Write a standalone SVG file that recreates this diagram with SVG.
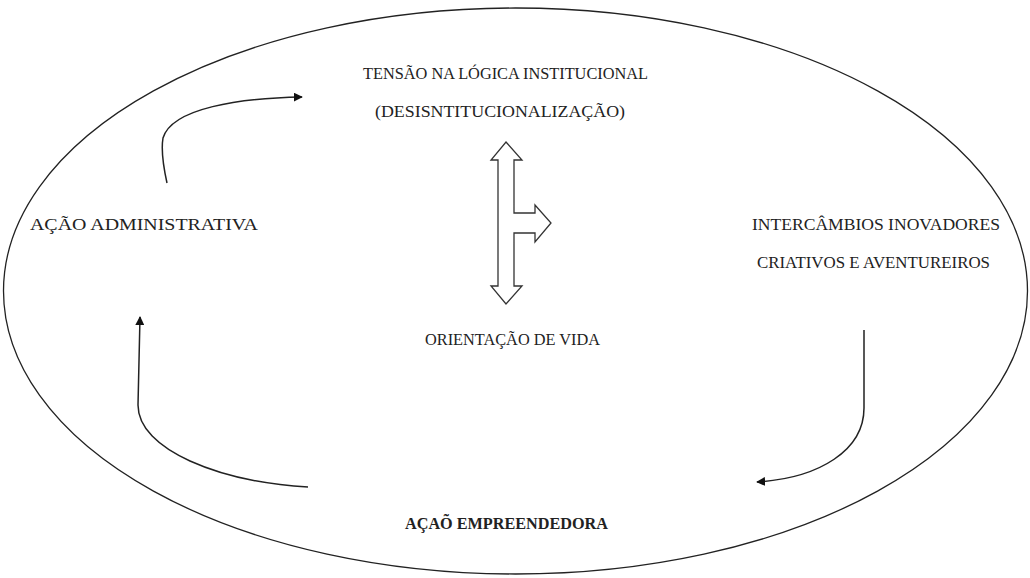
<svg xmlns="http://www.w3.org/2000/svg" width="1030" height="578" viewBox="0 0 1030 578">
<style>
.t{font-family:"Liberation Serif","DejaVu Serif","Times New Roman",serif;font-size:16px;fill:#222;}
.b{font-weight:bold;}
.c{fill:none;stroke:#222;stroke-width:1.5;}
</style>
<defs>
<marker id="ah" viewBox="0 0 10 10" refX="9" refY="5" markerWidth="9" markerHeight="9" markerUnits="userSpaceOnUse" orient="auto">
<path d="M0,0 L10,5 L0,10 z" fill="#111"/>
</marker>
</defs>
<rect width="1030" height="578" fill="#fff"/>
<g id="frame"><ellipse cx="515.5" cy="291" rx="512" ry="283" fill="none" stroke="#222" stroke-width="1.3"/></g>
<g id="tensao"><text class="t" x="363" y="79" textLength="285" lengthAdjust="spacingAndGlyphs">TENSÃO NA LÓGICA INSTITUCIONAL</text>
<text class="t" x="375" y="117" textLength="250" lengthAdjust="spacingAndGlyphs">(DESISNTITUCIONALIZAÇÃO)</text></g>
<g id="acao-adm"><text class="t" x="30" y="230" textLength="228" lengthAdjust="spacingAndGlyphs">AÇÃO ADMINISTRATIVA</text></g>
<g id="intercambios"><text class="t" x="752" y="230" textLength="248" lengthAdjust="spacingAndGlyphs">INTERCÂMBIOS INOVADORES</text>
<text class="t" x="757" y="268" textLength="233" lengthAdjust="spacingAndGlyphs">CRIATIVOS E AVENTUREIROS</text></g>
<g id="orientacao"><text class="t" x="425" y="345" textLength="175" lengthAdjust="spacingAndGlyphs">ORIENTAÇÃO DE VIDA</text></g>
<g id="acao-emp"><text class="t b" x="405" y="529" textLength="203" lengthAdjust="spacingAndGlyphs">AÇAÕ EMPREENDEDORA</text></g>
<g id="blockarrow"><path d="M506,142 L522,160 L514,160 L514,213 L535,213 L535,205 L551,223 L535,242 L535,233 L514,233 L514,286 L522,286 L506,304 L491,286 L498,286 L498,160 L491,160 Z" fill="#fff" stroke="#333" stroke-width="1.3"/></g>
<g id="connectors">
<path class="c" d="M167,183 C163,165 161,150 163,138 C172,108 240,98 302,97" marker-end="url(#ah)"/>
<path class="c" d="M864,330 L864,408 C864,450 820,478 757,482" marker-end="url(#ah)"/>
<path class="c" d="M308,487 C220,482 138,450 138,405 L140,317" marker-end="url(#ah)"/>
</g>
</svg>
